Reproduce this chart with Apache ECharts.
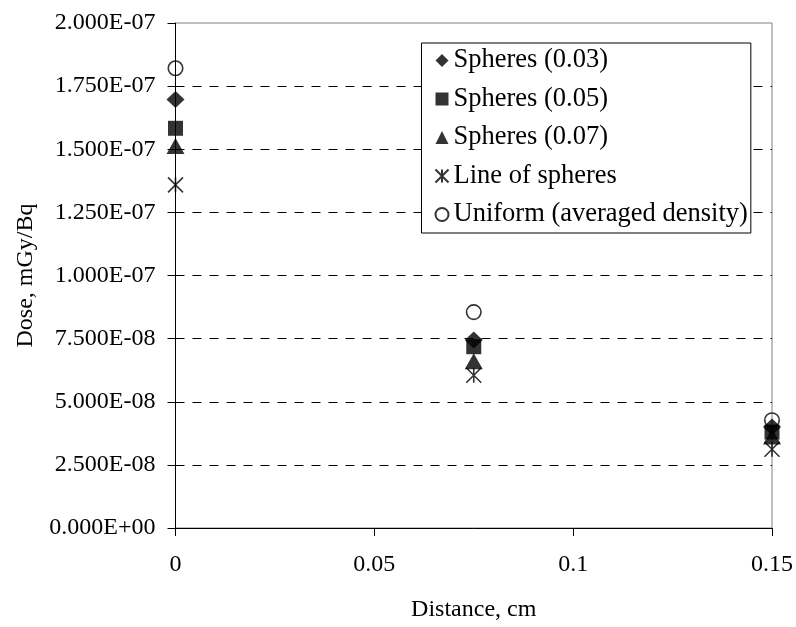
<!DOCTYPE html>
<html>
<head>
<meta charset="utf-8">
<script src="https://cdn.jsdelivr.net/npm/echarts@6/dist/echarts.min.js"></script>
<style>
  html, body { margin: 0; padding: 0; background: #fff; }
  #chart { width: 796px; height: 627px; }
</style>
</head>
<body>
<div id="chart"></div>
<script>
// Distances (cm) at which the dose was evaluated
const distances = [0, 0.075, 0.15];

// Dose (mGy/Bq) per source model
const spheres003 = [1.697e-7, 7.45e-8, 4.00e-8];
const spheres005 = [1.583e-7, 7.18e-8, 3.80e-8];
const spheres007 = [1.513e-7, 6.60e-8, 3.62e-8];
const lineOfSpheres = [1.359e-7, 6.05e-8, 3.12e-8];
const uniformAveraged = [1.821e-7, 8.55e-8, 4.27e-8];

const seriesNames = [
  'Spheres (0.03)',
  'Spheres (0.05)',
  'Spheres (0.07)',
  'Line of spheres',
  'Uniform (averaged density)'
];

// Axis ranges and tick spacing
const xMin = 0, xMax = 0.15, xStep = 0.05;
const yMin = 0, yMax = 2.0e-7, yStep = 2.5e-8;

const FONT = '"Liberation Serif", "Times New Roman", serif';

// asterisk marker: an X with a vertical stroke through it
const STAR = 'path://M0,0L20,20M20,0L0,20M10,0L10,20';

function pairs(ys) {
  return distances.map((x, i) => [x, ys[i]]);
}

// "1.750E-07" style labels
function sciLabel(v) {
  if (v === 0) return '0.000E+00';
  const s = v.toExponential(3).toUpperCase();
  const m = s.match(/^(-?[\d.]+)E([+-])(\d+)$/);
  const exp = m[3].length < 2 ? '0' + m[3] : m[3];
  return m[1] + 'E' + m[2] + exp;
}

function xLabel(v) {
  return String(parseFloat(v.toFixed(4)));
}

const chart = echarts.init(document.getElementById('chart'), null, { renderer: 'canvas' });

const solid = { color: '#000', borderColor: '#000', borderWidth: 0 };

chart.setOption({
  backgroundColor: '#fff',
  animation: false,
  textStyle: { fontFamily: FONT, color: '#000' },
  grid: {
    left: 175.5, right: 23, top: 23, bottom: 92,
    show: true, borderColor: '#808080', borderWidth: 1,
    backgroundColor: 'transparent', containLabel: false
  },
  legend: {
    orient: 'vertical',
    left: 421.5, top: 43,
    padding: [4, 3, 5, 13],
    itemGap: 11.5,
    itemWidth: 13, itemHeight: 13,
    itemTextGap: 10,
    backgroundColor: '#fff',
    borderColor: '#000', borderWidth: 1,
    textStyle: { fontFamily: FONT, fontSize: 26.5, color: '#000', lineHeight: 26 },
    data: seriesNames
  },
  xAxis: {
    type: 'value',
    min: xMin, max: xMax, interval: xStep,
    name: 'Distance, cm',
    nameLocation: 'middle',
    nameGap: 70,
    nameTextStyle: { fontFamily: FONT, fontSize: 24, color: '#000' },
    axisLine: { show: true, onZero: false, lineStyle: { color: '#000', width: 1 } },
    axisTick: { show: true, inside: false, length: 8, lineStyle: { color: '#000' } },
    axisLabel: { margin: 25, fontFamily: FONT, fontSize: 24, color: '#000', formatter: xLabel },
    splitLine: { show: false }
  },
  yAxis: {
    type: 'value',
    min: yMin, max: yMax, interval: yStep,
    name: 'Dose, mGy/Bq',
    nameLocation: 'middle',
    nameGap: 138,
    nameTextStyle: { fontFamily: FONT, fontSize: 24, color: '#000' },
    axisLine: { show: true, onZero: false, lineStyle: { color: '#000', width: 1 } },
    axisTick: { show: true, inside: false, length: 8, lineStyle: { color: '#000' } },
    axisLabel: { margin: 20, fontFamily: FONT, fontSize: 24, color: '#000', formatter: sciLabel },
    splitLine: {
      show: true, showMinLine: false, showMaxLine: false,
      lineStyle: { color: '#000', width: 1, type: [9, 8] }
    }
  },
  series: [
    {
      name: seriesNames[0], type: 'scatter',
      symbol: 'diamond', symbolSize: [18, 17],
      itemStyle: solid, data: pairs(spheres003)
    },
    {
      name: seriesNames[1], type: 'scatter',
      symbol: 'rect', symbolSize: 15,
      itemStyle: solid, data: pairs(spheres005)
    },
    {
      name: seriesNames[2], type: 'scatter',
      symbol: 'triangle', symbolSize: [18, 16],
      itemStyle: solid, data: pairs(spheres007)
    },
    {
      name: seriesNames[3], type: 'scatter',
      symbol: STAR, symbolSize: 15,
      itemStyle: { color: 'rgba(0,0,0,0)', borderColor: '#000', borderWidth: 1.6 },
      data: pairs(lineOfSpheres)
    },
    {
      name: seriesNames[4], type: 'scatter',
      symbol: 'circle', symbolSize: 14.5,
      itemStyle: { color: 'rgba(0,0,0,0)', borderColor: '#000', borderWidth: 1.6 },
      data: pairs(uniformAveraged)
    }
  ]
});
</script>
</body>
</html>
